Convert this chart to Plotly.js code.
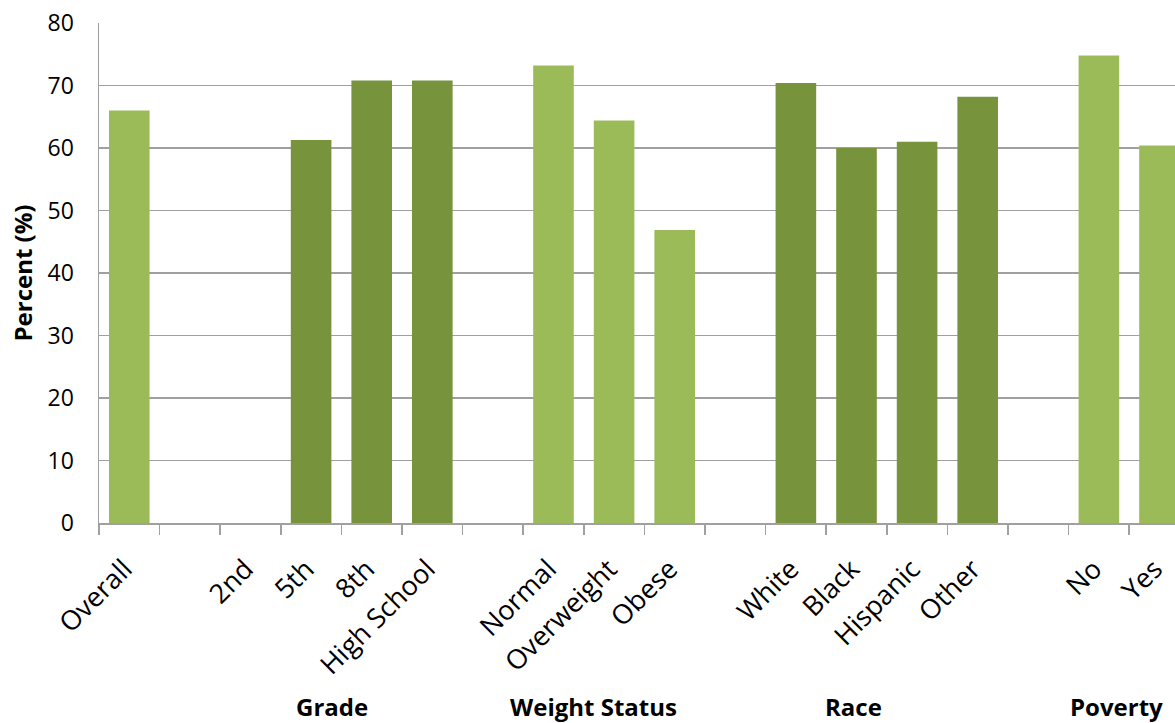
<!DOCTYPE html>
<html>
<head>
<meta charset="utf-8">
<script src="https://cdn.plot.ly/plotly-3.0.1.min.js"></script>
<style>html,body{margin:0;padding:0;overflow:hidden;background:#fff;}#chart{width:1175px;height:723px;}</style>
</head>
<body>
<div id="chart"></div>
<script>
// Data
var categories = ['Overall', ' ', '2nd', '5th', '8th', 'High School', '  ',
  'Normal', 'Overweight', 'Obese', '   ',
  'White', 'Black', 'Hispanic', 'Other', '    ', 'No', 'Yes'];
var percents = [66.0, null, null, 61.3, 70.8, 70.8, null,
  73.2, 64.4, 46.9, null,
  70.4, 60.0, 61.0, 68.2, null, 74.8, 60.4];
var groupOf = ['Overall', '', 'Grade', 'Grade', 'Grade', 'Grade', '',
  'Weight Status', 'Weight Status', 'Weight Status', '',
  'Race', 'Race', 'Race', 'Race', '', 'Poverty', 'Poverty'];
var groupLabels = ['Grade', 'Weight Status', 'Race', 'Poverty'];
var yTicks = [0, 10, 20, 30, 40, 50, 60, 70, 80];

// Styling
var groupColor = {
  'Overall': '#9BBB59', 'Grade': '#77933C', 'Weight Status': '#9BBB59',
  'Race': '#77933C', 'Poverty': '#9BBB59', '': '#9BBB59'
};
var groupLabelX = {'Grade': 3.34, 'Weight Status': 7.66, 'Race': 11.95, 'Poverty': 16.29};

var colors = groupOf.map(function(g){ return groupColor[g]; });

var trace = {
  type: 'bar',
  x: categories,
  y: percents,
  marker: {color: colors, line: {width: 0}},
  hoverinfo: 'x+y'
};

var annotations = groupLabels.map(function(g){
  return {
    text: '<b>' + g + '</b>', xref: 'x', yref: 'paper',
    x: groupLabelX[g], y: -0.366, xanchor: 'center', yanchor: 'middle',
    showarrow: false, font: {family: 'Open Sans', size: 24, color: '#000'}
  };
});

var layout = {
  width: 1175, height: 723,
  margin: {l: 99, r: 0, t: 23, b: 200, pad: 0},
  paper_bgcolor: '#fff', plot_bgcolor: '#fff',
  showlegend: false,
  bargap: 0.33,
  font: {family: 'Open Sans', size: 23, color: '#000'},
  xaxis: {
    type: 'category',
    range: [-0.5, 17.256],
    tickson: 'boundaries',
    ticks: 'outside', ticklen: 10, tickwidth: 1.5, tickcolor: '#a0a0a0',
    showline: true, linecolor: '#a0a0a0', linewidth: 1.5,
    showgrid: false, zeroline: false,
    tickangle: -45,
    ticklabelstandoff: 18,
    ticklabelshift: -5,
    tickfont: {family: 'Open Sans', size: 27, color: '#000'},
    automargin: false
  },
  yaxis: {
    range: [0, 80],
    tickmode: 'array', tickvals: yTicks,
    ticks: '', ticklabelstandoff: 19,
    showline: true, linecolor: '#a0a0a0', linewidth: 1.5,
    showgrid: true, gridcolor: '#a0a0a0', gridwidth: 1.5,
    zeroline: false,
    tickfont: {family: 'Open Sans', size: 23, color: '#000'},
    title: {text: '<b>Percent (%)</b>', standoff: 8, font: {family: 'Open Sans', size: 24, color: '#000'}},
    automargin: false
  },
  annotations: annotations
};

Plotly.newPlot('chart', [trace], layout, {displayModeBar: false, staticPlot: true});
</script>
</body>
</html>
